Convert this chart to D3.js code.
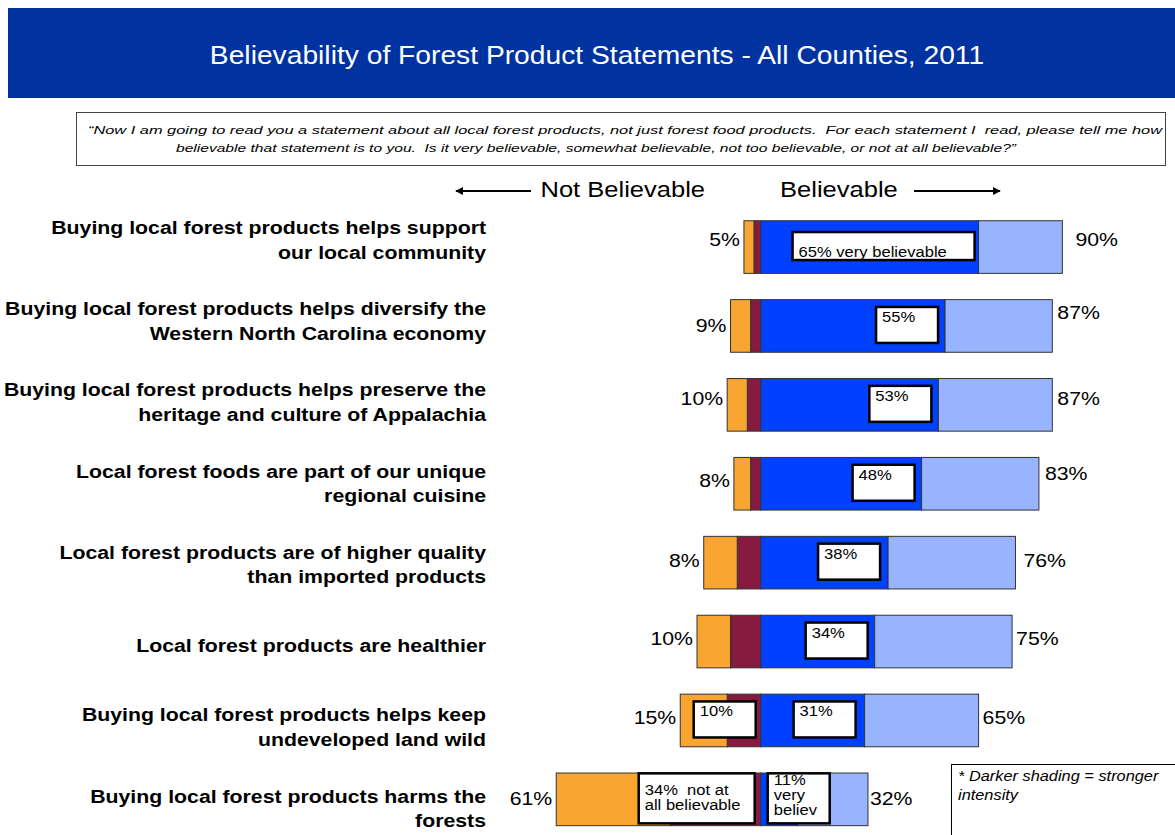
<!DOCTYPE html>
<html>
<head>
<meta charset="utf-8">
<script src="https://cdn.jsdelivr.net/npm/d3@7"></script>
<style>
  body { margin: 0; background: #fff; }
  svg { display: block; font-family: "Liberation Sans", Arial, sans-serif; }
  svg text { white-space: pre; }
</style>
</head>
<body>
<div id="chart"></div>
<script>
// statements (two lines each, as in the slide)
const statements = [
  ['Buying local forest products helps support', 'our local community'],
  ['Buying local forest products helps diversify the', 'Western North Carolina economy'],
  ['Buying local forest products helps preserve the', 'heritage and culture of Appalachia'],
  ['Local forest foods are part of our unique', 'regional cuisine'],
  ['Local forest products are of higher quality', 'than imported products'],
  ['Local forest products are healthier'],
  ['Buying local forest products helps keep', 'undeveloped land wild'],
  ['Buying local forest products harms the', 'forests']
];
// percentages
const notAtAll   = [3, 6, 6, 5, 10, 10, 14, 34];
const notToo     = [2, 3, 4, 3, 7, 9, 10, 27];
const very       = [65, 55, 53, 48, 38, 34, 31, 11];
const somewhat   = [25, 32, 34, 35, 38, 41, 34, 21];
// totals as printed on the slide
const notBelLabels = ['5%', '9%', '10%', '8%', '8%', '10%', '15%', '61%'];
const belLabels    = ['90%', '87%', '87%', '83%', '76%', '75%', '65%', '32%'];
// boxed call-outs: row, segment, text lines
const calloutRows  = [0, 1, 2, 3, 4, 5, 6, 6, 7, 7];
const calloutSegs  = ['very', 'very', 'very', 'very', 'very', 'very', 'notToo', 'very', 'notToo', 'very'];
const calloutTexts = [
  ['65% very believable'], ['55%'], ['53%'], ['48%'], ['38%'], ['34%'],
  ['10%'], ['31%'], ['34%  not at', 'all believable'], ['11%', 'very', 'believ']
];

const keys = ['notToo', 'notAtAll', 'very', 'somewhat'];
const colors = { notAtAll: '#f9a532', notToo: '#861a3f', very: '#0040ff', somewhat: '#99b4ff' };

// small layout tweaks for the hand-placed slide labels
const leftDy  = [-5, 2, -4, -1, 0, -1, 0, 2];
const rightDy = [-5, -11, -4, -8, 0, -1, 0, 2];
const rightDx = [13, 5, 5, 6, 8, 4, 4, 2];
const boxLayout = [
  { w: 182, h: 28, gap: 4, ty: 25 }, { w: 62, h: 36, gap: 7, ty: 15 }, { w: 62, h: 36, gap: 7, ty: 15 },
  { w: 62, h: 36, gap: 7, ty: 15 }, { w: 62, h: 36, gap: 8, ty: 15 }, { w: 62, h: 36, gap: 7, ty: 15 },
  { w: 62, h: 36, gap: 5, ty: 15 }, { w: 62, h: 36, gap: 9, ty: 15 },
  { w: 116, h: 50, gap: 6, ty: 22 }, { w: 62, h: 50, gap: 7, ty: 12, fromStart: true }
];

const W = 1175, H = 835, SX = 1.12;
const svg = d3.select('#chart').append('svg').attr('width', W).attr('height', H).attr('viewBox', `0 0 ${W} ${H}`);

function stretchText(parent, x, y, txt, anchor) {
  return parent.append('text')
    .attr('transform', `translate(${x},${y}) scale(${SX},1)`)
    .attr('text-anchor', anchor || 'start')
    .text(txt);
}

// header band
svg.append('rect').attr('x', 8).attr('y', 8).attr('width', W - 8).attr('height', 90).attr('fill', '#0033a0');
stretchText(svg, 597, 64, 'Believability of Forest Product Statements - All Counties, 2011', 'middle')
  .attr('fill', '#fff').style('font-size', '25.2px');

// question box
svg.append('rect').attr('x', 76.5).attr('y', 112.5).attr('width', 1089).attr('height', 53)
  .attr('fill', '#fff').attr('stroke', '#444').attr('stroke-width', 1);
const q = svg.append('g').style('font-size', '11.8px').style('font-style', 'italic');
q.append('text').attr('x', 88).attr('y', 134).attr('textLength', 1074).attr('lengthAdjust', 'spacingAndGlyphs')
  .text('\u201cNow I am going to read you a statement about all local forest products, not just forest food products.  For each statement I  read, please tell me how');
q.append('text').attr('x', 176).attr('y', 152).attr('textLength', 840).attr('lengthAdjust', 'spacingAndGlyphs')
  .text('believable that statement is to you.  Is it very believable, somewhat believable, not too believable, or not at all believable?\u201d');

// scales
const x = d3.scaleLinear().domain([-100, 100]).range([425.5, 1095.9]);
const y = d3.scaleBand().domain(d3.range(statements.length)).range([207.6, 838.8]).paddingInner(0.333).paddingOuter(0.1665);
const yLabel = d3.scalePoint().domain(d3.range(statements.length)).range([239.5, 808]);

// direction header
const dir = svg.append('g').style('font-size', '22.8px');
stretchText(dir, 705, 197, 'Not Believable', 'end');
stretchText(dir, 780, 197, 'Believable', 'start');
svg.append('defs').append('marker').attr('id', 'ah').attr('viewBox', '0 0 10 10')
  .attr('refX', 9).attr('refY', 5).attr('markerWidth', 4).attr('markerHeight', 4).attr('orient', 'auto')
  .append('path').attr('d', 'M0,0L10,5L0,10z').attr('fill', '#000');
svg.append('line').attr('x1', 531).attr('y1', 191).attr('x2', 456).attr('y2', 191)
  .attr('stroke', '#000').attr('stroke-width', 2).attr('marker-end', 'url(#ah)');
svg.append('line').attr('x1', 914).attr('y1', 191).attr('x2', 1000).attr('y2', 191)
  .attr('stroke', '#000').attr('stroke-width', 2).attr('marker-end', 'url(#ah)');

// diverging stack
const rows = statements.map((s, i) => ({
  i, notToo: -notToo[i], notAtAll: -notAtAll[i], very: very[i], somewhat: somewhat[i]
}));
const series = d3.stack().keys(keys).offset(d3.stackOffsetDiverging)(rows);

svg.append('g').selectAll('g').data(series).join('g')
  .attr('fill', d => colors[d.key])
  .selectAll('rect').data(d => d).join('rect')
  .attr('x', d => x(Math.min(d[0], d[1])))
  .attr('width', d => Math.abs(x(d[1]) - x(d[0])))
  .attr('y', d => y(d.data.i))
  .attr('height', y.bandwidth())
  .attr('stroke', '#333').attr('stroke-width', 1);

// statement labels
const lab = svg.append('g').style('font-size', '19px').style('font-weight', 'bold').attr('fill', '#000');
statements.forEach((lines, i) => {
  const lh = 24.5;
  const top = yLabel(i) - (lines.length - 1) * lh / 2 + 6.8;
  lines.forEach((t, k) => stretchText(lab, 486, top + k * lh, t, 'end'));
});

// totals
const tot = svg.append('g').style('font-size', '19px');
rows.forEach(r => {
  const cy = y(r.i) + y.bandwidth() / 2;
  const left = x(-(notAtAll[r.i] + notToo[r.i]));
  const right = x(very[r.i] + somewhat[r.i]);
  stretchText(tot, left - 4, cy + 4 + leftDy[r.i], notBelLabels[r.i], 'end');
  stretchText(tot, right + rightDx[r.i], cy + 4 + rightDy[r.i], belLabels[r.i], 'start');
});

// call-out boxes
const cg = svg.append('g').style('font-size', '14.8px');
calloutRows.forEach((row, j) => {
  const b = boxLayout[j];
  const seg = series.find(s => s.key === calloutSegs[j])[row];
  const lo = x(Math.min(seg[0], seg[1])), hi = x(Math.max(seg[0], seg[1]));
  const bx = b.fromStart ? lo + b.gap : hi - b.gap - b.w;
  const cy = y(row) + y.bandwidth() / 2 - 1;
  const by = cy - b.h / 2;
  cg.append('rect').attr('x', bx).attr('y', by).attr('width', b.w).attr('height', b.h)
    .attr('fill', '#fff').attr('stroke', '#000').attr('stroke-width', 2.5);
  calloutTexts[j].forEach((t, k) => stretchText(cg, bx + 6, by + b.ty + k * 15, t, 'start'));
});

// note box
svg.append('rect').attr('x', 951.5).attr('y', 764.5).attr('width', 240).attr('height', 100)
  .attr('fill', '#fff').attr('stroke', '#000').attr('stroke-width', 1);
const note = svg.append('g').style('font-size', '14.6px').style('font-style', 'italic');
stretchText(note, 958, 781, '* Darker shading = stronger', 'start');
stretchText(note, 958, 800, 'intensity', 'start');
</script>
</body>
</html>
